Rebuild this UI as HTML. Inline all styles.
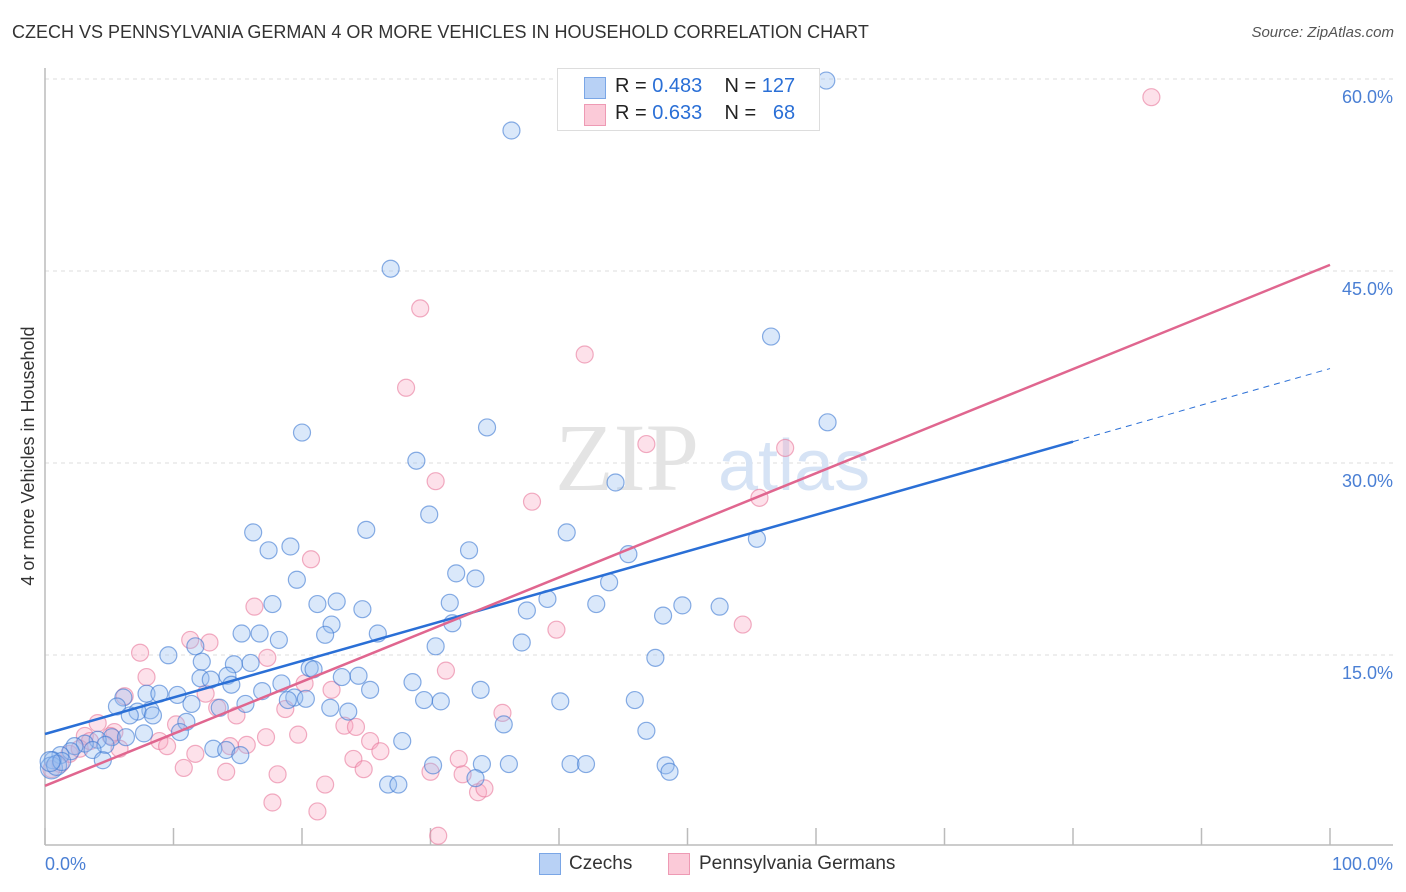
<!DOCTYPE html>
<html><head><meta charset="utf-8">
<style>
body{margin:0;background:#fff;font-family:"Liberation Sans",sans-serif;}
#wrap{position:relative;width:1406px;height:892px;overflow:hidden;}
.t{position:absolute;white-space:nowrap;}
</style></head>
<body>
<div id="wrap">
<div class="t" style="left:12px;top:22px;font-size:18px;color:#333;">CZECH VS PENNSYLVANIA GERMAN 4 OR MORE VEHICLES IN HOUSEHOLD CORRELATION CHART</div>
<div class="t" style="right:12px;top:24px;font-size:15px;color:#555;font-style:italic;">Source: ZipAtlas.com</div>
<svg id="chart" width="1406" height="892" style="position:absolute;left:0;top:0"></svg>
</div>
<script>
const xTicks=[0,10,20,30,40,50,60,70,80,90,100];
const yTicks=[15,30,45,60];
const yTickLabels=["15.0%","30.0%","45.0%","60.0%"];
const czX=[60.8,36.3,26.9,56.5,60.9,34.4,20.0,28.9,44.4,29.9,16.2,25.0,40.6,55.4,17.4,19.1,33.0,45.4,32.0,33.5,19.6,43.9,39.1,22.7,21.2,17.7,31.5,42.9,49.6,52.5,24.7,37.5,48.1,31.7,22.3,15.3,16.7,21.8,25.9,18.2,37.1,30.4,9.6,11.7,47.5,12.2,14.7,16.0,20.6,20.9,23.1,24.4,14.2,12.1,12.9,18.4,14.5,28.6,25.3,16.9,7.9,8.9,10.3,6.1,19.4,20.3,33.9,18.9,29.5,30.8,40.1,45.9,11.4,15.6,13.6,22.2,23.6,5.6,8.2,7.2,6.6,11.0,8.4,35.7,46.8,10.5,7.7,5.2,6.3,27.8,4.1,4.7,3.1,2.3,13.1,14.1,15.2,3.7,2.0,1.2,0.6,4.5,30.2,34.0,36.1,40.9,42.1,48.3,48.6,33.5,26.7,27.5,0.5,0.9,1.3,0.4];
const czY=[59.8,55.9,45.1,39.8,33.1,32.7,32.3,30.1,28.4,25.9,24.5,24.7,24.5,24.0,23.1,23.4,23.1,22.8,21.3,20.9,20.8,20.6,19.3,19.1,18.9,18.9,19.0,18.9,18.8,18.7,18.5,18.4,18.0,17.4,17.3,16.6,16.6,16.5,16.6,16.1,15.9,15.6,14.9,15.6,14.7,14.4,14.2,14.3,13.9,13.8,13.2,13.3,13.3,13.1,13.0,12.7,12.6,12.8,12.2,12.1,11.9,11.9,11.8,11.6,11.6,11.5,12.2,11.4,11.4,11.3,11.3,11.4,11.1,11.1,10.8,10.8,10.5,10.9,10.6,10.5,10.2,9.7,10.2,9.5,9.0,8.9,8.8,8.5,8.5,8.2,8.3,7.9,8.0,7.8,7.6,7.5,7.1,7.5,7.4,7.1,6.7,6.7,6.3,6.4,6.4,6.4,6.4,6.3,5.8,5.3,4.8,4.8,6.1,6.3,6.6,6.6];
const czSize=[8.5,8.5,8.5,8.5,8.5,8.5,8.5,8.5,8.5,8.5,8.5,8.5,8.5,8.5,8.5,8.5,8.5,8.5,8.5,8.5,8.5,8.5,8.5,8.5,8.5,8.5,8.5,8.5,8.5,8.5,8.5,8.5,8.5,8.5,8.5,8.5,8.5,8.5,8.5,8.5,8.5,8.5,8.5,8.5,8.5,8.5,8.5,8.5,8.5,8.5,8.5,8.5,8.5,8.5,8.5,8.5,8.5,8.5,8.5,8.5,8.5,8.5,8.5,8.5,8.5,8.5,8.5,8.5,8.5,8.5,8.5,8.5,8.5,8.5,8.5,8.5,8.5,8.5,8.5,8.5,8.5,8.5,8.5,8.5,8.5,8.5,8.5,8.5,8.5,8.5,8.5,8.5,8.5,8.5,8.5,8.5,8.5,8.5,8.5,8.5,8.5,8.5,8.5,8.5,8.5,8.5,8.5,8.5,8.5,8.5,8.5,8.5,11,10,9,10];
const pgX=[86.1,29.2,42.0,28.1,46.8,57.6,30.4,37.9,55.6,20.7,16.3,54.3,39.8,11.3,12.8,7.4,17.3,31.2,7.9,20.2,12.5,22.3,6.2,35.6,13.4,18.7,14.9,4.1,10.2,23.3,24.2,5.4,3.1,17.2,19.7,8.9,25.3,9.5,15.7,14.4,26.1,11.7,24.0,32.2,10.8,14.1,18.1,24.8,30.0,32.5,21.8,33.7,34.2,17.7,21.2,30.6,5.1,1.2,0.5,1.9,2.7,5.8,3.5];
const pgY=[58.5,42.0,38.4,35.8,31.4,31.1,28.5,26.9,27.2,22.4,18.7,17.3,16.9,16.1,15.9,15.1,14.7,13.7,13.2,12.7,11.9,12.2,11.7,10.4,10.8,10.7,10.2,9.6,9.5,9.4,9.3,8.9,8.6,8.5,8.7,8.2,8.2,7.8,7.9,7.8,7.4,7.2,6.8,6.8,6.1,5.8,5.6,6.0,5.8,5.6,4.8,4.2,4.5,3.4,2.7,0.8,8.6,6.4,6.0,7.2,7.6,7.6,8.2];
const czLine=[8.75,37.3];
const pgLine=[4.7,45.4];
const czSolidEnd=80;
const svg=document.getElementById('chart');
const NS='http://www.w3.org/2000/svg';
const X0=45,X1=1330,YB=846,PX=12.8;
function xs(v){return X0+(X1-X0)*v/100;}
function ys(v){return YB-v*PX;}
function mk(tag,attrs){const e=document.createElementNS(NS,tag);for(const k in attrs)e.setAttribute(k,attrs[k]);svg.appendChild(e);return e;}
yTicks.forEach((t,i)=>{
  const g=mk('line',{x1:45,x2:1393,y1:ys(t)+1,y2:ys(t)+1,stroke:'#ddd','stroke-dasharray':'4,4'});
  
  
  const l=mk('text',{x:1393,y:ys(t)+25,'text-anchor':'end','font-size':18,fill:'#4a7fd4','font-family':'Liberation Sans'});
  l.textContent=yTickLabels[i];
  
  
});
const ax=mk('line',{x1:45,x2:1393,y1:845,y2:845,stroke:'#bbb','stroke-width':1.5});


const ay=mk('line',{x1:45,x2:45,y1:68,y2:845,stroke:'#bbb','stroke-width':1.5});


xTicks.forEach(t=>{
  const k=mk('line',{x1:xs(t),x2:xs(t),y1:828,y2:845,stroke:'#bbb','stroke-width':1.5});
  
  
});
const wm=mk('text',{x:555,y:490,'font-size':96,fill:'#e4e4e4','font-family':'Liberation Serif'});
wm.textContent='ZIP';


const wm2=mk('text',{x:718,y:490,'font-size':72,fill:'#d6e3f5','font-family':'Liberation Sans'});
wm2.textContent='atlas';


pgX.forEach((v,i)=>{
  const c=mk('circle',{cx:xs(v),cy:ys(pgY[i]),r:8.5,fill:'rgba(248,170,195,0.35)',stroke:'rgba(232,120,155,0.6)','stroke-width':1.2});
  
  
});
czX.forEach((v,i)=>{
  const c=mk('circle',{cx:xs(v),cy:ys(czY[i]),r:czSize[i],fill:'rgba(150,190,240,0.35)',stroke:'rgba(60,120,210,0.6)','stroke-width':1.2});
  
  
});
function ly(l,x){return l[0]+(l[1]-l[0])*x/100;}
const b1=mk('line',{x1:xs(0),y1:ys(ly(czLine,0)),x2:xs(czSolidEnd),y2:ys(ly(czLine,czSolidEnd)),stroke:'#2a6fd6','stroke-width':2.5});


const b2=mk('line',{x1:xs(czSolidEnd),y1:ys(ly(czLine,czSolidEnd)),x2:xs(100),y2:ys(ly(czLine,100)),stroke:'#2a6fd6','stroke-width':1,'stroke-dasharray':'6,5'});


const p1=mk('line',{x1:xs(0),y1:ys(ly(pgLine,0)),x2:xs(100),y2:ys(ly(pgLine,100)),stroke:'#e0668f','stroke-width':2.5});


const xl0=mk('text',{x:45,y:870,'font-size':18,fill:'#4a7fd4','font-family':'Liberation Sans'});
xl0.textContent='0.0%';


const xl1=mk('text',{x:1393,y:870,'text-anchor':'end','font-size':18,fill:'#4a7fd4','font-family':'Liberation Sans'});
xl1.textContent='100.0%';


const yt=mk('text',{x:34,y:456,'text-anchor':'middle','font-size':18,fill:'#333','font-family':'Liberation Sans',transform:'rotate(-90 34 456)'});
yt.textContent='4 or more Vehicles in Household';


</script>
<div class="t" style="left:557px;top:68px;width:261px;height:61px;border:1px solid #ddd;background:#fff;">
 <div class="t" style="left:26px;top:8px;width:20px;height:20px;background:#b8d1f5;border:1px solid #7aa6e6;"></div>
 <div class="t" style="left:57px;top:6px;font-size:20px;color:#222;">R = <span style="color:#2a6fd6">0.483</span>&nbsp;&nbsp;&nbsp; N = <span style="color:#2a6fd6">127</span></div>
 <div class="t" style="left:26px;top:35px;width:20px;height:20px;background:#fbcad8;border:1px solid #ee9ab4;"></div>
 <div class="t" style="left:57px;top:33px;font-size:20px;color:#222;">R = <span style="color:#2a6fd6">0.633</span>&nbsp;&nbsp;&nbsp; N = &nbsp;&nbsp;<span style="color:#2a6fd6">68</span></div>
</div>
<div class="t" style="left:539px;top:853px;width:20px;height:20px;background:#b8d1f5;border:1px solid #7aa6e6;"></div>
<div class="t" style="left:569px;top:853px;font-size:19px;color:#333;">Czechs</div>
<div class="t" style="left:668px;top:853px;width:20px;height:20px;background:#fbcad8;border:1px solid #ee9ab4;"></div>
<div class="t" style="left:699px;top:853px;font-size:19px;color:#333;">Pennsylvania Germans</div>
</body></html>
